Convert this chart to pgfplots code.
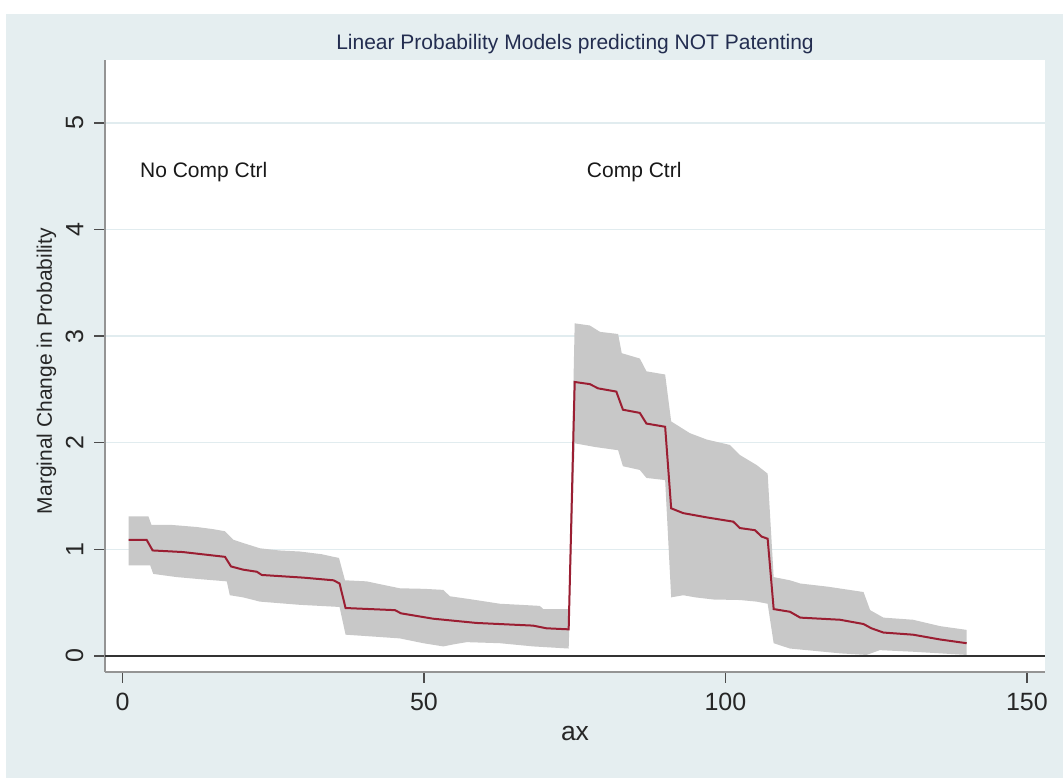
\documentclass[border=0pt]{standalone}
\usepackage{fontspec}
\setmainfont{Liberation Sans}
\usepackage{pgfplots}
\pgfplotsset{compat=1.18}
\definecolor{bg}{RGB}{229,238,240}
\definecolor{bandgray}{RGB}{200,200,200}
\definecolor{estred}{RGB}{155,30,50}
\definecolor{titlecol}{RGB}{35,45,80}
\definecolor{gridcol}{RGB}{225,236,239}
\begin{document}
\begin{tikzpicture}
\fill[white] (0pt,0pt) rectangle (1063pt,778pt);
\fill[bg] (6pt,0pt) rectangle (1063pt,764pt);
\begin{axis}[
  at={(105pt,106pt)}, anchor=south west,
  scale only axis, width=940pt, height=612pt,
  xmin=-2.9, xmax=153, ymin=-0.15, ymax=5.59,
  axis background/.style={fill=white},
  axis x line*=bottom, axis y line*=left,
  axis line style={draw=black!42, line width=2.5pt, -},
  xtick={0,50,100,150}, ytick={0,1,2,3,4,5},
  minor tick num=0,
  tick align=outside, major tick length=11pt,
  tick style={line width=1.3pt, color=black!70},
  ymajorgrids=true,
  grid style={color=gridcol, line width=1.3pt},
  /pgf/number format/assume math mode=true,
  xticklabel shift=7pt, yticklabel shift=7pt,
  xticklabel style={font=\fontsize{25}{30}\selectfont, text=black!85},
  yticklabel style={font=\fontsize{25}{30}\selectfont, text=black!85, rotate=90, anchor=south},
  xlabel={ax},
  xlabel style={at={(axis description cs:0.5,-0.1127)}, anchor=base, font=\fontsize{26.5}{30}\selectfont, text=black!85},
  ylabel={Marginal Change in Probability},
  ylabel style={at={(axis description cs:-0.0564,0.4918)}, anchor=base, font=\fontsize{21}{25}\selectfont, text=black!85},
  title={Linear Probability Models predicting NOT Patenting},
  title style={at={(axis description cs:0.5,1.0066)}, anchor=base, font=\fontsize{21}{25}\selectfont, text=titlecol},
  clip=true,
]
% confidence band: upper bound (left to right), then lower bound (right to left)
\addplot[fill=bandgray, draw=none] coordinates {
(1,1.31) (4.3,1.31) (4.8,1.23) (8,1.23) (12.3,1.21) (15,1.19) (17,1.17) (18.4,1.09) (20,1.06) (22.8,1.01) (26,0.99) (29.4,0.98) (33,0.955) (35,0.93) (35.9,0.92) (36.9,0.71) (40.5,0.70) (43,0.67) (46,0.635) (50,0.63) (53.2,0.62) (54.3,0.56) (58,0.53) (62.6,0.49) (66,0.48) (69.2,0.47) (69.8,0.44) (74,0.44) (75,3.12) (77.5,3.10) (79.2,3.04) (82.2,3.02) (82.8,2.84) (85.8,2.79) (86.9,2.67) (90,2.64) (91,2.20) (94.1,2.09) (96.9,2.03) (100.7,1.98) (102.4,1.885) (105.2,1.79) (107,1.71) (108,0.74) (110.7,0.71) (112.4,0.68) (117,0.65) (122.9,0.60) (124,0.43) (126.2,0.36) (131.1,0.34) (135.6,0.28) (140,0.245)
(140,0.01) (135.6,0.025) (131.1,0.04) (125.6,0.055) (123.4,0.01) (119,0.025) (113.5,0.055) (110.7,0.07) (108,0.12) (107,0.49) (105.2,0.51) (102.4,0.525) (98,0.53) (95,0.55) (93,0.57) (91,0.55) (90,1.65) (86.9,1.67) (85.8,1.745) (83,1.78) (82.2,1.93) (78.4,1.96) (75,1.995) (74,0.07) (68.1,0.09) (62.6,0.12) (57.1,0.13) (55,0.11) (53.2,0.09) (49.9,0.12) (46,0.165) (42.2,0.18) (37,0.20) (36,0.46) (29.4,0.48) (22.8,0.51) (20,0.55) (17.8,0.57) (17.3,0.70) (13,0.72) (9,0.74) (5.1,0.77) (4.6,0.85) (1,0.85)
} -- cycle;
\addplot[black!80, line width=1.6pt] coordinates {(-2.9,0) (153,0)};
\addplot[estred, line width=2pt] coordinates {
(1,1.09) (4,1.09) (5,0.99) (10,0.975) (17,0.93) (18,0.84) (20,0.81) (22.3,0.79) (23.1,0.76) (30,0.735) (35,0.71) (36,0.68) (37,0.45) (45.2,0.43) (46.2,0.40) (51.5,0.35) (58.7,0.31) (68.1,0.285) (70.3,0.26) (74,0.25) (75,2.57) (77.5,2.55) (78.9,2.51) (81.9,2.48) (83,2.31) (85.8,2.28) (86.9,2.18) (90,2.15) (91,1.385) (93,1.34) (96.9,1.30) (101.3,1.26) (102.4,1.20) (104.9,1.18) (106,1.12) (107,1.10) (108,0.44) (110.7,0.415) (112.4,0.36) (119,0.34) (122.9,0.30) (124.2,0.26) (126.2,0.22) (131.1,0.20) (135.6,0.155) (140,0.12)
};
\node[anchor=base west, inner sep=0pt, font=\fontsize{21}{25}\selectfont, text=black!90] at (axis cs:2.9,4.49) {No Comp Ctrl};
\node[anchor=base west, inner sep=0pt, font=\fontsize{21}{25}\selectfont, text=black!90] at (axis cs:77,4.49) {Comp Ctrl};
\end{axis}
\end{tikzpicture}
\end{document}
